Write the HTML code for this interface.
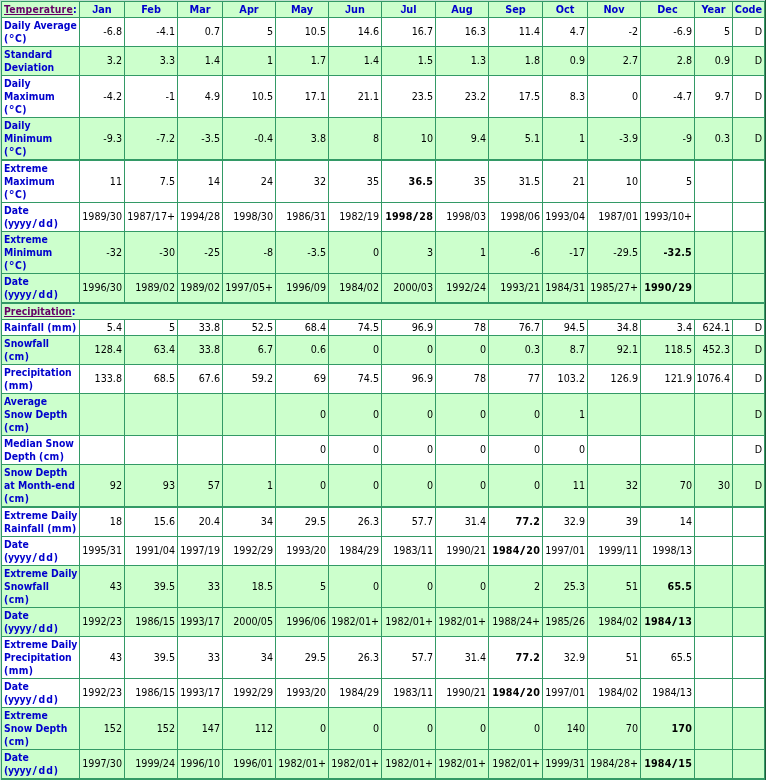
<!DOCTYPE html>
<html lang="en"><head><meta charset="utf-8"><title>Climate Normals</title>
<style>
html,body{margin:0;padding:0;}
body{width:766px;height:780px;overflow:hidden;background:#c1e0d0;position:relative;
 font-family:"DejaVu Sans Condensed","DejaVu Sans","Liberation Sans",sans-serif;font-size:10.65px;line-height:13px;color:#000;}
table{position:absolute;left:1px;top:1px;border-collapse:separate;border-spacing:0;table-layout:fixed;
 width:763px;border-left:1px solid #339966;border-top:1px solid #339966;}
#re{position:absolute;left:765px;top:0;width:1px;height:780px;background:#1f5a3a;}
#be{position:absolute;left:1px;top:779px;width:764px;height:1px;background:#339966;}
td,th{box-sizing:border-box;border-right:1px solid #339966;border-bottom:1px solid #339966;padding:0 2px 0 0;
 text-align:right;vertical-align:middle;font-weight:normal;overflow:hidden;white-space:nowrap;}
tr.g td,tr.g th{background:#ccffcc;}
tr.w td,tr.w th{background:#fff;}
tr.t td,tr.t th{border-bottom-width:2px;}
th.l{text-align:left;padding:0 0 0 2px;color:#0000cc;font-weight:bold;font-size:10.35px;}
th.m{text-align:center;padding:0;color:#0000cc;font-weight:bold;font-size:10.8px;}
a{color:#660066;text-decoration:underline;text-decoration-skip-ink:none;text-underline-offset:0.5px;text-decoration-thickness:1px;}
tr.h a{letter-spacing:0.19px;}
tr.two td{padding-bottom:1px;}
.c{letter-spacing:0.45px;}
.y{letter-spacing:-0.26px;}
.sl{display:inline-block;transform:scaleX(1.3);margin:0 2.3px 0 1.7px;}
.dd{letter-spacing:0.9px;}
.p{letter-spacing:0.4px;}
.J{font-family:"Liberation Sans",sans-serif;font-size:10.7px;line-height:0;}
.dg{font-size:13px;line-height:0;position:relative;top:1px;}
b{font-weight:bold;letter-spacing:0.2px;}
.bs{display:inline-block;transform:scaleX(1.5);margin:0 1.4px 0 1.6px;}
</style></head><body>
<table>
<colgroup>
<col style="width:78px">
<col style="width:45px">
<col style="width:53px">
<col style="width:45px">
<col style="width:53px">
<col style="width:53px">
<col style="width:53px">
<col style="width:54px">
<col style="width:53px">
<col style="width:54px">
<col style="width:45px">
<col style="width:53px">
<col style="width:54px">
<col style="width:38px">
<col style="width:32px">
</colgroup>
<tr class="g h" style="height:16px">
<th class="l" style="height:16px"><a>Temperature</a>:</th>
<th class="m"><span class="J">J</span>an</th>
<th class="m">Feb</th>
<th class="m">Mar</th>
<th class="m">Apr</th>
<th class="m">May</th>
<th class="m"><span class="J">J</span>un</th>
<th class="m"><span class="J">J</span>ul</th>
<th class="m">Aug</th>
<th class="m">Sep</th>
<th class="m">Oct</th>
<th class="m">Nov</th>
<th class="m">Dec</th>
<th class="m">Year</th>
<th class="m">Code</th>
</tr>
<tr class="w two" style="height:29px">
<th class="l" style="height:29px">Daily Average<br><span class="c">(<span class="dg">°</span>C)</span></th>
<td>-6.8</td>
<td>-4.1</td>
<td>0.7</td>
<td>5</td>
<td>10.5</td>
<td>14.6</td>
<td>16.7</td>
<td>16.3</td>
<td>11.4</td>
<td>4.7</td>
<td>-2</td>
<td>-6.9</td>
<td>5</td>
<td>D</td>
</tr>
<tr class="g two" style="height:29px">
<th class="l" style="height:29px">Standard<br>Deviation</th>
<td>3.2</td>
<td>3.3</td>
<td>1.4</td>
<td>1</td>
<td>1.7</td>
<td>1.4</td>
<td>1.5</td>
<td>1.3</td>
<td>1.8</td>
<td>0.9</td>
<td>2.7</td>
<td>2.8</td>
<td>0.9</td>
<td>D</td>
</tr>
<tr class="w" style="height:42px">
<th class="l" style="height:42px">Daily<br>Maximum<br><span class="c">(<span class="dg">°</span>C)</span></th>
<td>-4.2</td>
<td>-1</td>
<td>4.9</td>
<td>10.5</td>
<td>17.1</td>
<td>21.1</td>
<td>23.5</td>
<td>23.2</td>
<td>17.5</td>
<td>8.3</td>
<td>0</td>
<td>-4.7</td>
<td>9.7</td>
<td>D</td>
</tr>
<tr class="g t" style="height:43px">
<th class="l" style="height:43px">Daily<br>Minimum<br><span class="c">(<span class="dg">°</span>C)</span></th>
<td>-9.3</td>
<td>-7.2</td>
<td>-3.5</td>
<td>-0.4</td>
<td>3.8</td>
<td>8</td>
<td>10</td>
<td>9.4</td>
<td>5.1</td>
<td>1</td>
<td>-3.9</td>
<td>-9</td>
<td>0.3</td>
<td>D</td>
</tr>
<tr class="w" style="height:42px">
<th class="l" style="height:42px">Extreme<br>Maximum<br><span class="c">(<span class="dg">°</span>C)</span></th>
<td>11</td>
<td>7.5</td>
<td>14</td>
<td>24</td>
<td>32</td>
<td>35</td>
<td><b>36.5</b></td>
<td>35</td>
<td>31.5</td>
<td>21</td>
<td>10</td>
<td>5</td>
<td></td>
<td></td>
</tr>
<tr class="w two" style="height:29px">
<th class="l" style="height:29px">Date<br><span class="y">(yyyy</span><span class="sl">/</span><span class="dd">dd</span>)</th>
<td>1989/30</td>
<td>1987/17+</td>
<td>1994/28</td>
<td>1998/30</td>
<td>1986/31</td>
<td>1982/19</td>
<td><b>1998<span class="bs">/</span>28</b></td>
<td>1998/03</td>
<td>1998/06</td>
<td>1993/04</td>
<td>1987/01</td>
<td>1993/10+</td>
<td></td>
<td></td>
</tr>
<tr class="g" style="height:42px">
<th class="l" style="height:42px">Extreme<br>Minimum<br><span class="c">(<span class="dg">°</span>C)</span></th>
<td>-32</td>
<td>-30</td>
<td>-25</td>
<td>-8</td>
<td>-3.5</td>
<td>0</td>
<td>3</td>
<td>1</td>
<td>-6</td>
<td>-17</td>
<td>-29.5</td>
<td><b>-32.5</b></td>
<td></td>
<td></td>
</tr>
<tr class="g t two" style="height:30px">
<th class="l" style="height:30px">Date<br><span class="y">(yyyy</span><span class="sl">/</span><span class="dd">dd</span>)</th>
<td>1996/30</td>
<td>1989/02</td>
<td>1989/02</td>
<td>1997/05+</td>
<td>1996/09</td>
<td>1984/02</td>
<td>2000/03</td>
<td>1992/24</td>
<td>1993/21</td>
<td>1984/31</td>
<td>1985/27+</td>
<td><b>1990<span class="bs">/</span>29</b></td>
<td></td>
<td></td>
</tr>
<tr class="g" style="height:16px">
<th class="l" colspan="15" style="height:16px"><a>Precipitation</a>:</th>
</tr>
<tr class="w" style="height:16px">
<th class="l" style="height:16px">Rainfall <span class="p">(mm)</span></th>
<td>5.4</td>
<td>5</td>
<td>33.8</td>
<td>52.5</td>
<td>68.4</td>
<td>74.5</td>
<td>96.9</td>
<td>78</td>
<td>76.7</td>
<td>94.5</td>
<td>34.8</td>
<td>3.4</td>
<td>624.1</td>
<td>D</td>
</tr>
<tr class="g two" style="height:29px">
<th class="l" style="height:29px">Snowfall<br><span class="p">(cm)</span></th>
<td>128.4</td>
<td>63.4</td>
<td>33.8</td>
<td>6.7</td>
<td>0.6</td>
<td>0</td>
<td>0</td>
<td>0</td>
<td>0.3</td>
<td>8.7</td>
<td>92.1</td>
<td>118.5</td>
<td>452.3</td>
<td>D</td>
</tr>
<tr class="w two" style="height:29px">
<th class="l" style="height:29px">Precipitation<br><span class="p">(mm)</span></th>
<td>133.8</td>
<td>68.5</td>
<td>67.6</td>
<td>59.2</td>
<td>69</td>
<td>74.5</td>
<td>96.9</td>
<td>78</td>
<td>77</td>
<td>103.2</td>
<td>126.9</td>
<td>121.9</td>
<td>1076.4</td>
<td>D</td>
</tr>
<tr class="g" style="height:42px">
<th class="l" style="height:42px">Average<br>Snow Depth<br><span class="p">(cm)</span></th>
<td></td>
<td></td>
<td></td>
<td></td>
<td>0</td>
<td>0</td>
<td>0</td>
<td>0</td>
<td>0</td>
<td>1</td>
<td></td>
<td></td>
<td></td>
<td>D</td>
</tr>
<tr class="w two" style="height:29px">
<th class="l" style="height:29px">Median Snow<br>Depth <span class="p">(cm)</span></th>
<td></td>
<td></td>
<td></td>
<td></td>
<td>0</td>
<td>0</td>
<td>0</td>
<td>0</td>
<td>0</td>
<td>0</td>
<td></td>
<td></td>
<td></td>
<td>D</td>
</tr>
<tr class="g t" style="height:43px">
<th class="l" style="height:43px">Snow Depth<br>at Month-end<br><span class="p">(cm)</span></th>
<td>92</td>
<td>93</td>
<td>57</td>
<td>1</td>
<td>0</td>
<td>0</td>
<td>0</td>
<td>0</td>
<td>0</td>
<td>11</td>
<td>32</td>
<td>70</td>
<td>30</td>
<td>D</td>
</tr>
<tr class="w two" style="height:29px">
<th class="l" style="height:29px">Extreme Daily<br>Rainfall <span class="p">(mm)</span></th>
<td>18</td>
<td>15.6</td>
<td>20.4</td>
<td>34</td>
<td>29.5</td>
<td>26.3</td>
<td>57.7</td>
<td>31.4</td>
<td><b>77.2</b></td>
<td>32.9</td>
<td>39</td>
<td>14</td>
<td></td>
<td></td>
</tr>
<tr class="w two" style="height:29px">
<th class="l" style="height:29px">Date<br><span class="y">(yyyy</span><span class="sl">/</span><span class="dd">dd</span>)</th>
<td>1995/31</td>
<td>1991/04</td>
<td>1997/19</td>
<td>1992/29</td>
<td>1993/20</td>
<td>1984/29</td>
<td>1983/11</td>
<td>1990/21</td>
<td><b>1984<span class="bs">/</span>20</b></td>
<td>1997/01</td>
<td>1999/11</td>
<td>1998/13</td>
<td></td>
<td></td>
</tr>
<tr class="g" style="height:42px">
<th class="l" style="height:42px">Extreme Daily<br>Snowfall<br><span class="p">(cm)</span></th>
<td>43</td>
<td>39.5</td>
<td>33</td>
<td>18.5</td>
<td>5</td>
<td>0</td>
<td>0</td>
<td>0</td>
<td>2</td>
<td>25.3</td>
<td>51</td>
<td><b>65.5</b></td>
<td></td>
<td></td>
</tr>
<tr class="g two" style="height:29px">
<th class="l" style="height:29px">Date<br><span class="y">(yyyy</span><span class="sl">/</span><span class="dd">dd</span>)</th>
<td>1992/23</td>
<td>1986/15</td>
<td>1993/17</td>
<td>2000/05</td>
<td>1996/06</td>
<td>1982/01+</td>
<td>1982/01+</td>
<td>1982/01+</td>
<td>1988/24+</td>
<td>1985/26</td>
<td>1984/02</td>
<td><b>1984<span class="bs">/</span>13</b></td>
<td></td>
<td></td>
</tr>
<tr class="w" style="height:42px">
<th class="l" style="height:42px">Extreme Daily<br>Precipitation<br><span class="p">(mm)</span></th>
<td>43</td>
<td>39.5</td>
<td>33</td>
<td>34</td>
<td>29.5</td>
<td>26.3</td>
<td>57.7</td>
<td>31.4</td>
<td><b>77.2</b></td>
<td>32.9</td>
<td>51</td>
<td>65.5</td>
<td></td>
<td></td>
</tr>
<tr class="w two" style="height:29px">
<th class="l" style="height:29px">Date<br><span class="y">(yyyy</span><span class="sl">/</span><span class="dd">dd</span>)</th>
<td>1992/23</td>
<td>1986/15</td>
<td>1993/17</td>
<td>1992/29</td>
<td>1993/20</td>
<td>1984/29</td>
<td>1983/11</td>
<td>1990/21</td>
<td><b>1984<span class="bs">/</span>20</b></td>
<td>1997/01</td>
<td>1984/02</td>
<td>1984/13</td>
<td></td>
<td></td>
</tr>
<tr class="g" style="height:42px">
<th class="l" style="height:42px">Extreme<br>Snow Depth<br><span class="p">(cm)</span></th>
<td>152</td>
<td>152</td>
<td>147</td>
<td>112</td>
<td>0</td>
<td>0</td>
<td>0</td>
<td>0</td>
<td>0</td>
<td>140</td>
<td>70</td>
<td><b>170</b></td>
<td></td>
<td></td>
</tr>
<tr class="g two" style="height:29px">
<th class="l" style="height:29px">Date<br><span class="y">(yyyy</span><span class="sl">/</span><span class="dd">dd</span>)</th>
<td>1997/30</td>
<td>1999/24</td>
<td>1996/10</td>
<td>1996/01</td>
<td>1982/01+</td>
<td>1982/01+</td>
<td>1982/01+</td>
<td>1982/01+</td>
<td>1982/01+</td>
<td>1999/31</td>
<td>1984/28+</td>
<td><b>1984<span class="bs">/</span>15</b></td>
<td></td>
<td></td>
</tr>
</table><div id="re"></div><div id="be"></div></body></html>
